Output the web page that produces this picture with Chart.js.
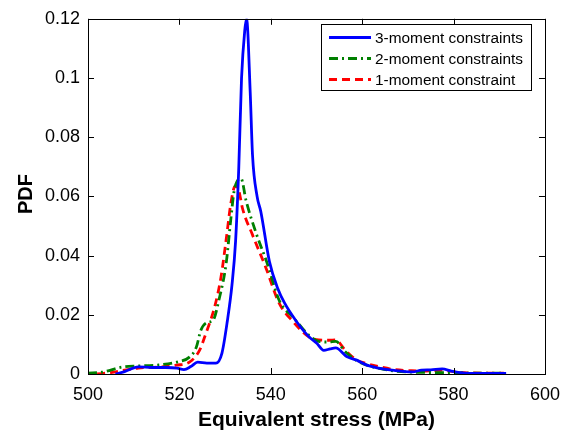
<!DOCTYPE html>
<html>
<head>
<meta charset="utf-8">
<script src="https://cdn.jsdelivr.net/npm/chart.js@4.4.1/dist/chart.umd.min.js"></script>
<style>
  html, body { margin: 0; padding: 0; background: #fff; }
  #wrap { width: 570px; height: 433px; }
</style>
</head>
<body>
<div id="wrap"><canvas id="pdfChart" width="570" height="433"></canvas></div>
<script>
// verdier lest av figuren
const xTicks = [500, 520, 540, 560, 580, 600];
const yTicks = [0, 0.02, 0.04, 0.06, 0.08, 0.1, 0.12];
const yTickLabels = ['0', '0.02', '0.04', '0.06', '0.08', '0.1', '0.12'];

const seriesNames = ['3-moment constraints', '2-moment constraints', '1-moment constraint'];

const blueX = [506, 508, 511, 514, 517, 519.5, 521, 522.5, 524, 526, 528, 529.3, 530.5, 531.5, 532.3, 533, 533.6, 534.3, 534.7, 535.5, 536, 537, 537.8, 539.7, 541.5, 543, 545.5, 548.4, 550, 551.6, 553, 554.2, 556.7, 558.8, 561, 563.6, 567, 571, 573, 575, 577.5, 579.5, 582.5, 586, 591.5];
const blueY = [0, 0.0008, 0.0024, 0.0022, 0.0022, 0.002, 0.0015, 0.0025, 0.004, 0.0037, 0.0037, 0.007, 0.018, 0.03, 0.045, 0.07, 0.1, 0.116, 0.12, 0.095, 0.074, 0.06, 0.055, 0.038, 0.029, 0.024, 0.018, 0.0125, 0.0105, 0.008, 0.0085, 0.0088, 0.0058, 0.0047, 0.003, 0.002, 0.0012, 0.0007, 0.0013, 0.0014, 0.0017, 0.001, 0.0003, 0.0002, 0.0002];

const greenX = [500, 503, 507.7, 511, 515, 519.4, 522.2, 523.7, 524.7, 526.2, 527.3, 528.8, 530.2, 531.3, 532, 533.5, 534.6, 536.7, 539.3, 541.8, 545.1, 548.4, 550.5, 552.7, 554.2, 556.3, 558.8, 561, 564, 567, 571, 575, 580, 585, 591];
const greenY = [0.0003, 0.0006, 0.0024, 0.0027, 0.003, 0.004, 0.0057, 0.009, 0.0148, 0.0175, 0.018, 0.026, 0.037, 0.053, 0.062, 0.066, 0.0585, 0.048, 0.037, 0.025, 0.0188, 0.013, 0.011, 0.0108, 0.011, 0.0075, 0.0045, 0.003, 0.0018, 0.001, 0.0006, 0.0005, 0.0004, 0.0003, 0.0003];

const redX = [502, 505, 508, 511, 515, 519.4, 522.2, 524.4, 525.8, 527.7, 529.1, 530.2, 531.3, 532.2, 533, 533.8, 536, 538.9, 541.8, 544.7, 548.4, 550.5, 552.7, 554.2, 556.3, 558.8, 561, 563.6, 567, 570.8, 574, 577.4, 580, 583, 587, 591];
const redY = [0, 0.0005, 0.0013, 0.002, 0.0023, 0.003, 0.004, 0.008, 0.0137, 0.0226, 0.0327, 0.045, 0.058, 0.0635, 0.062, 0.056, 0.047, 0.036, 0.024, 0.018, 0.0125, 0.0115, 0.0114, 0.0115, 0.008, 0.0047, 0.0035, 0.0025, 0.0015, 0.0011, 0.001, 0.0012, 0.0008, 0.0004, 0.0003, 0.0003];

const tilPunkter = (xs, ys) => xs.map((x, i) => ({ x: x, y: ys[i] }));

const fontFamily = '"Liberation Sans", Arial, Helvetica, sans-serif';

// innovervendte tikker, ramme, y-tittel og forklaring som i MATLAB
const matlabRamme = {
  id: 'matlabRamme',
  afterDraw(chart) {
    const { ctx, chartArea: a, scales } = chart;
    const len = 6;
    ctx.save();
    ctx.strokeStyle = '#000';
    ctx.lineWidth = 1;
    ctx.setLineDash([]);
    ctx.beginPath();
    xTicks.forEach(v => {
      const px = Math.round(scales.x.getPixelForValue(v)) + 0.5;
      ctx.moveTo(px, a.bottom); ctx.lineTo(px, a.bottom - len);
      ctx.moveTo(px, a.top); ctx.lineTo(px, a.top + len);
    });
    yTicks.forEach(v => {
      const py = Math.round(scales.y.getPixelForValue(v)) + 0.5;
      ctx.moveTo(a.left, py); ctx.lineTo(a.left + len, py);
      ctx.moveTo(a.right, py); ctx.lineTo(a.right - len, py);
    });
    ctx.stroke();
    ctx.strokeRect(Math.round(a.left) + 0.5, Math.round(a.top) + 0.5,
      Math.round(a.right - a.left), Math.round(a.bottom - a.top));

    // y-tittel
    ctx.save();
    ctx.translate(25, 194);
    ctx.rotate(-Math.PI / 2);
    ctx.fillStyle = '#000';
    ctx.font = 'bold 20px ' + fontFamily;
    ctx.textAlign = 'center';
    ctx.textBaseline = 'middle';
    ctx.fillText('PDF', 0, 1);
    ctx.restore();

    // forklaring
    const bx = 321, by = 24, bw = 210, bh = 66;
    ctx.fillStyle = '#fff';
    ctx.fillRect(bx, by, bw, bh);
    ctx.strokeRect(bx + 0.5, by + 0.5, bw, bh);
    ctx.font = '15.4px ' + fontFamily;
    ctx.textBaseline = 'middle';
    chart.data.datasets.forEach((ds, i) => {
      const yy = by + 13.5 + i * 21;
      ctx.strokeStyle = ds.borderColor;
      ctx.lineWidth = 2.8;
      ctx.setLineDash(ds.borderDash || []);
      ctx.beginPath();
      ctx.moveTo(bx + 8, yy);
      ctx.lineTo(bx + 50, yy);
      ctx.stroke();
      ctx.fillStyle = '#000';
      ctx.fillText(ds.label, bx + 54, yy + 1);
    });
    ctx.restore();
  }
};

new Chart(document.getElementById('pdfChart'), {
  type: 'line',
  data: {
    datasets: [
      {
        label: seriesNames[0],
        data: tilPunkter(blueX, blueY),
        borderColor: '#0000ff',
        borderWidth: 2.8,
        pointRadius: 0,
        cubicInterpolationMode: 'monotone'
      },
      {
        label: seriesNames[1],
        data: tilPunkter(greenX, greenY),
        borderColor: '#008000',
        borderWidth: 2.8,
        borderDash: [9, 4, 2, 4],
        pointRadius: 0,
        cubicInterpolationMode: 'monotone'
      },
      {
        label: seriesNames[2],
        data: tilPunkter(redX, redY),
        borderColor: '#ff0000',
        borderWidth: 2.8,
        borderDash: [8, 5],
        pointRadius: 0,
        cubicInterpolationMode: 'monotone'
      }
    ]
  },
  options: {
    responsive: false,
    animation: false,
    layout: { padding: { top: 17, right: 23, left: 0, bottom: 0 } },
    plugins: {
      legend: { display: false },
      tooltip: { enabled: false }
    },
    scales: {
      x: {
        type: 'linear',
        min: 500,
        max: 600,
        afterBuildTicks: s => { s.ticks = xTicks.map(v => ({ value: v })); },
        afterFit: s => { s.height = 59; },
        grid: { display: false, drawTicks: false },
        border: { display: false },
        ticks: {
          padding: 10,
          color: '#000',
          font: { family: fontFamily, size: 18 },
          maxRotation: 0
        },
        title: {
          display: true,
          text: 'Equivalent stress (MPa)',
          color: '#000',
          font: { family: fontFamily, size: 21, weight: 'bold' },
          padding: { top: 2, bottom: 0 }
        }
      },
      y: {
        type: 'linear',
        min: 0,
        max: 0.12,
        afterBuildTicks: s => { s.ticks = yTicks.map(v => ({ value: v })); },
        afterFit: s => { s.width = 88; },
        grid: { display: false, drawTicks: false },
        border: { display: false },
        ticks: {
          padding: 8,
          color: '#000',
          font: { family: fontFamily, size: 18 },
          callback: (v, i) => yTickLabels[i]
        },
        title: { display: false }
      }
    }
  },
  plugins: [matlabRamme]
});
</script>
</body>
</html>
